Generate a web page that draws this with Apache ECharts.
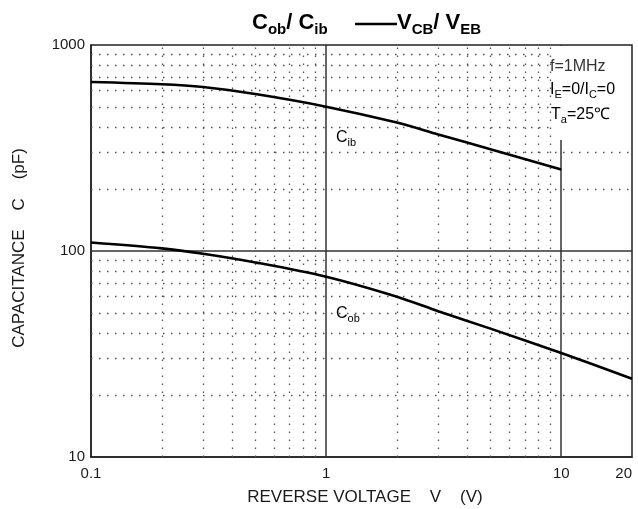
<!DOCTYPE html>
<html>
<head>
<meta charset="utf-8">
<script src="https://cdn.jsdelivr.net/npm/echarts@6/dist/echarts.min.js"></script>
<style>
  html, body { margin: 0; padding: 0; background: #fff; overflow: hidden; }
  #chart { width: 638px; height: 509px; }
</style>
</head>
<body>
<div id="chart"></div>
<script>
// reverse voltage (V) and capacitance (pF)
const voltage = [0.1, 0.2, 0.3, 0.5, 1, 2, 3, 5, 10, 20];
const cibValues = [661, 645, 625, 578, 502, 420, 368, 312, 249];
const cobValues = [110, 103, 97, 88, 75, 60, 51, 42, 32, 24];

const xTicks = [0.1, 1, 10, 20];
const yTicks = [10, 100, 1000];
const xMinorGrid = [0.2, 0.3, 0.4, 0.5, 0.6, 0.7, 0.8, 0.9, 2, 3, 4, 5, 6, 7, 8, 9];
const yMinorGrid = [20, 30, 40, 50, 60, 70, 80, 90, 200, 300, 400, 500, 600, 700, 800, 900];
const xMajorGrid = [1, 10];
const yMajorGrid = [100];

const FONT = '"Liberation Sans", Arial, sans-serif';
const ink = '#1a1a1a';

const chart = echarts.init(document.getElementById('chart'));

const dotted = { type: [1.5, 6.5], color: '#555', width: 1.3 };
const solid = { type: 'solid', color: '#333', width: 1.5 };

const gridLines = [
    ...xMinorGrid.map(v => ({ xAxis: v, lineStyle: dotted })),
    ...yMinorGrid.map(v => ({ yAxis: v, lineStyle: dotted })),
    ...xMajorGrid.map(v => ({ xAxis: v, lineStyle: solid })),
    ...yMajorGrid.map(v => ({ yAxis: v, lineStyle: solid }))
];

// small helper for "C<sub>ib</sub>" style labels
function subText(x, y, text, size, subSize, bold, color) {
    const w = bold ? 'bold' : 'normal';
    return {
        type: 'text', z: 60, x: x, y: y,
        style: {
            rich: {
                a: { fontSize: size, fontWeight: w, fontFamily: FONT, color: color },
                s: { fontSize: subSize, fontWeight: w, fontFamily: FONT, color: color, padding: [Math.round(size * 0.65), 0, 0, 0] }
            },
            text: text, verticalAlign: 'middle'
        }
    };
}

const option = {
    animation: false,
    grid: {
        left: 91, right: 6, top: 45, bottom: 52,
        outerBoundsMode: 'none',
        show: true, borderColor: '#222', borderWidth: 1.5, backgroundColor: '#fff'
    },
    xAxis: {
        type: 'log', logBase: 10, min: 0.1, max: 20,
        axisLine: { show: true, lineStyle: { color: '#222', width: 1.5 } },
        axisTick: { show: false },
        splitLine: { show: false },
        axisLabel: {
            customValues: xTicks,
            formatter: v => String(+v.toPrecision(3)),
            alignMaxLabel: 'right',
            color: ink, fontFamily: FONT, fontSize: 15, margin: 9
        }
    },
    yAxis: {
        type: 'log', logBase: 10, min: 10, max: 1000,
        axisLine: { show: true, lineStyle: { color: '#222', width: 1.5 } },
        axisTick: { show: false },
        splitLine: { show: false },
        axisLabel: {
            customValues: yTicks,
            formatter: v => String(Math.round(v)),
            color: ink, fontFamily: FONT, fontSize: 15, margin: 6
        }
    },
    series: [
        {
            name: 'Cib', type: 'line', smooth: 0.3, symbol: 'none',
            data: voltage.slice(0, cibValues.length).map((v, i) => [v, cibValues[i]]),
            lineStyle: { color: '#000', width: 2.6 },
            z: 5
        },
        {
            name: 'Cob', type: 'line', smooth: 0.3, symbol: 'none',
            data: voltage.map((v, i) => [v, cobValues[i]]),
            lineStyle: { color: '#000', width: 2.6 },
            z: 5,
            markLine: {
                silent: true, symbol: 'none', label: { show: false },
                z: 1,
                data: gridLines
            }
        }
    ],
    graphic: [
        // white panel behind the test conditions
        { type: 'rect', z: 50, shape: { x: 555, y: 46, width: 76, height: 94 }, style: { fill: '#fff' } },
        {
            type: 'text', z: 60, x: 550, y: 67,
            style: { text: 'f=1MHz', font: '16px ' + FONT, fill: '#333', verticalAlign: 'middle' }
        },
        subText(550, 90, '{a|I}{s|E}{a|=0/I}{s|C}{a|=0}', 16, 11, false, '#333'),
        subText(551, 115, '{a|T}{s|a}{a|=25℃}', 16, 11, false, '#333'),
        // curve labels
        subText(336, 138, '{a|C}{s|ib}', 16, 11, false, '#333'),
        subText(336, 314, '{a|C}{s|ob}', 16, 11, false, '#333'),
        // title
        subText(252, 23, '{a|C}{s|ob}{a|/ C}{s|ib}', 22, 15, true, '#000'),
        { type: 'line', z: 60, shape: { x1: 355, y1: 24, x2: 397, y2: 24 }, style: { stroke: '#000', lineWidth: 2.5 } },
        subText(397, 23, '{a|V}{s|CB}{a|/ V}{s|EB}', 22, 15, true, '#000'),
        // axis names
        {
            type: 'text', z: 60, x: 365, y: 497,
            style: {
                text: 'REVERSE VOLTAGE    V    (V)', font: '17px ' + FONT, fill: ink,
                align: 'center', verticalAlign: 'middle'
            }
        },
        {
            type: 'text', z: 60, x: 19, y: 248, rotation: Math.PI / 2,
            style: {
                text: 'CAPACITANCE    C    (pF)', font: '17px ' + FONT, fill: ink,
                align: 'center', verticalAlign: 'middle'
            }
        }
    ]
};

chart.setOption(option);
</script>
</body>
</html>
